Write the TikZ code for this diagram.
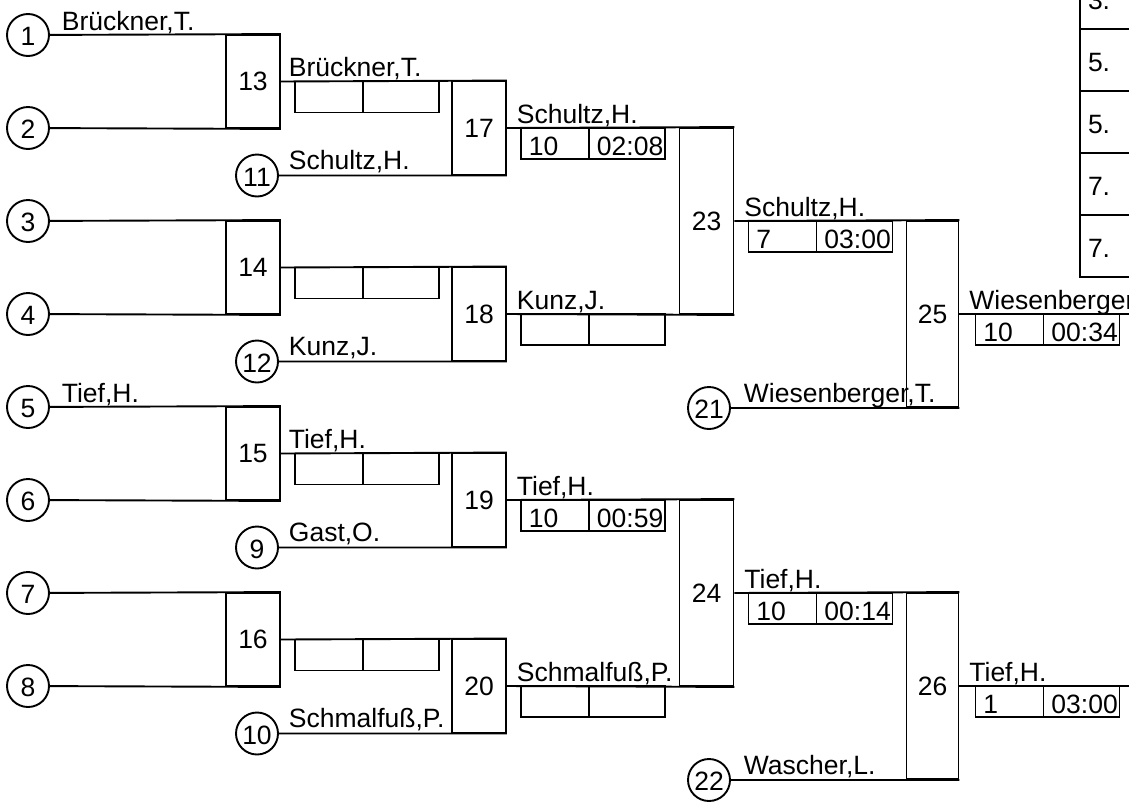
\documentclass[tikz,border=0pt]{standalone}
\usepackage{fontspec}
\setmainfont{Liberation Sans}
\usetikzlibrary{positioning}
\tikzset{
  seed/.style={draw, circle, minimum size=42pt, inner sep=0pt, text height=21pt, text depth=0pt},
  match/.style={draw, minimum width=54pt, inner sep=0pt},
  scoreCell/.style={draw, anchor=north west, outer sep=0pt, inner xsep=8pt, inner ysep=0pt, minimum height=31pt, text height=23pt, text depth=0pt},
  scoreLeft/.style={scoreCell, text width=52pt},
  scoreRight/.style={scoreCell, text width=60pt},
  player/.style={anchor=base west, inner sep=0pt},
  rankRow/.style={draw, anchor=north west, outer sep=0pt, inner xsep=8pt, minimum height=62pt, text width=84pt, text height=22pt, text depth=0pt}
}

\begin{document}
\begin{tikzpicture}[x=1pt, y=-1pt, line width=1.9pt, font=\fontsize{26.5}{31}\selectfont]
  \useasboundingbox (0,0) rectangle (1129,809);
  \clip (0,0) rectangle (1129,809);

  % seeds
  \node[seed] (s1) at (28,35) {1};
  \node[seed] (s2) at (28,128) {2};
  \node[seed] (s3) at (28,221) {3};
  \node[seed] (s4) at (28,314) {4};
  \node[seed] (s5) at (28,407) {5};
  \node[seed] (s6) at (28,500) {6};
  \node[seed] (s7) at (28,593) {7};
  \node[seed] (s8) at (28,686) {8};
  \node[seed] (s11) at (257,175.5) {11};
  \node[seed] (s12) at (257,361.5) {12};
  \node[seed] (s9) at (257,547.5) {9};
  \node[seed] (s10) at (257,733.5) {10};
  \node[seed] (s21) at (709,408) {21};
  \node[seed] (s22) at (709,780) {22};

  % matches
  \node[match, minimum height=93pt] (m13) at (253,81.5) {13};
  \node[match, minimum height=93pt] (m14) at (253,267.5) {14};
  \node[match, minimum height=93pt] (m15) at (253,453.5) {15};
  \node[match, minimum height=93pt] (m16) at (253,639.5) {16};
  \node[match, minimum height=93pt] (m17) at (479,128) {17};
  \node[match, minimum height=93pt] (m18) at (479,314) {18};
  \node[match, minimum height=93pt] (m19) at (479,500) {19};
  \node[match, minimum height=93pt] (m20) at (479,686) {20};
  \node[match, minimum height=186pt] (m23) at (706.5,221) {23};
  \node[match, minimum height=186pt] (m24) at (706.5,593) {24};
  \node[match, minimum width=52pt, minimum height=186pt] (m25) at (932.5,314) {25};
  \node[match, minimum width=52pt, minimum height=186pt] (m26) at (932.5,686) {26};
  \coordinate (out25) at (1140,314);
  \coordinate (out26) at (1140,686);

  % bracket lines
  \draw (s1) -- (m13.north east);
  \draw (s2) -- (m13.south east);
  \draw (s3) -- (m14.north east);
  \draw (s4) -- (m14.south east);
  \draw (s5) -- (m15.north east);
  \draw (s6) -- (m15.south east);
  \draw (s7) -- (m16.north east);
  \draw (s8) -- (m16.south east);
  \draw (m13.east) -- (m17.north east);
  \draw (s11.east) -- (m17.south east);
  \draw (m14.east) -- (m18.north east);
  \draw (s12.east) -- (m18.south east);
  \draw (m15.east) -- (m19.north east);
  \draw (s9.east) -- (m19.south east);
  \draw (m16.east) -- (m20.north east);
  \draw (s10.east) -- (m20.south east);
  \draw (m17.east) -- (m23.north east);
  \draw (m18.east) -- (m23.south east);
  \draw (m19.east) -- (m24.north east);
  \draw (m20.east) -- (m24.south east);
  \draw (m23.east) -- (m25.north east);
  \draw (s21.east) -- (m25.south east);
  \draw (m24.east) -- (m26.north east);
  \draw (s22.east) -- (m26.south east);
  \draw (m25.east) -- (out25);
  \draw (m26.east) -- (out26);

  % names
  \node[player] (n1) at ([xshift=11pt, yshift=5pt]s1.east) {Brückner,T.};
  \node[player] (n5) at ([xshift=11pt, yshift=5pt]s5.east) {Tief,H.};
  \node[player] (n11) at ([xshift=9pt, yshift=6pt]s11.east) {Schultz,H.};
  \node[player] (n12) at ([xshift=9pt, yshift=6pt]s12.east) {Kunz,J.};
  \node[player] (n9) at ([xshift=9pt, yshift=6pt]s9.east) {Gast,O.};
  \node[player] (n10) at ([xshift=9pt, yshift=6pt]s10.east) {Schmalfuß,P.};
  \node[player] (n21) at ([xshift=12pt, yshift=6pt]s21.east) {Wiesenberger,T.};
  \node[player] (n22) at ([xshift=12pt, yshift=6pt]s22.east) {Wascher,L.};
  \node[player] (w13) at ([xshift=7pt, yshift=5pt]m13.east) {Brückner,T.};
  \node[player] (w15) at ([xshift=7pt, yshift=5pt]m15.east) {Tief,H.};
  \node[player] (w17) at ([xshift=9pt, yshift=5pt]m17.east) {Schultz,H.};
  \node[player] (w18) at ([xshift=9pt, yshift=5pt]m18.east) {Kunz,J.};
  \node[player] (w19) at ([xshift=9pt, yshift=5pt]m19.east) {Tief,H.};
  \node[player] (w20) at ([xshift=9pt, yshift=5pt]m20.east) {Schmalfuß,P.};
  \node[player] (w23) at ([xshift=9pt, yshift=5pt]m23.east) {Schultz,H.};
  \node[player] (w24) at ([xshift=9pt, yshift=5pt]m24.east) {Tief,H.};
  \node[player] (w25) at ([xshift=9pt, yshift=5pt]m25.east) {Wiesenberger,T.};
  \node[player] (w26) at ([xshift=9pt, yshift=5pt]m26.east) {Tief,H.};

  % score boxes
  \node[scoreLeft] (r13a) at ([xshift=14pt]m13.east) {};
  \node[scoreRight, right=0pt of r13a] (r13b) {};
  \node[scoreLeft] (r14a) at ([xshift=14pt]m14.east) {};
  \node[scoreRight, right=0pt of r14a] (r14b) {};
  \node[scoreLeft] (r15a) at ([xshift=14pt]m15.east) {};
  \node[scoreRight, right=0pt of r15a] (r15b) {};
  \node[scoreLeft] (r16a) at ([xshift=14pt]m16.east) {};
  \node[scoreRight, right=0pt of r16a] (r16b) {};
  \node[scoreLeft] (r17a) at ([xshift=14pt]m17.east) {10};
  \node[scoreRight, right=0pt of r17a] (r17b) {02:08};
  \node[scoreLeft] (r18a) at ([xshift=14pt]m18.east) {};
  \node[scoreRight, right=0pt of r18a] (r18b) {};
  \node[scoreLeft] (r19a) at ([xshift=14pt]m19.east) {10};
  \node[scoreRight, right=0pt of r19a] (r19b) {00:59};
  \node[scoreLeft] (r20a) at ([xshift=14pt]m20.east) {};
  \node[scoreRight, right=0pt of r20a] (r20b) {};
  \node[scoreLeft] (r23a) at ([xshift=14pt]m23.east) {7};
  \node[scoreRight, right=0pt of r23a] (r23b) {03:00};
  \node[scoreLeft] (r24a) at ([xshift=14pt]m24.east) {10};
  \node[scoreRight, right=0pt of r24a] (r24b) {00:14};
  \node[scoreLeft] (r25a) at ([xshift=16pt]m25.east) {10};
  \node[scoreRight, right=0pt of r25a] (r25b) {00:34};
  \node[scoreLeft] (r26a) at ([xshift=16pt]m26.east) {1};
  \node[scoreRight, right=0pt of r26a] (r26b) {03:00};

  % ranking table
  \node[rankRow] (rk3) at (1080,-33) {3.};
  \node[rankRow, below=0pt of rk3] (rk5a) {5.};
  \node[rankRow, below=0pt of rk5a] (rk5b) {5.};
  \node[rankRow, below=0pt of rk5b] (rk7a) {7.};
  \node[rankRow, below=0pt of rk7a] (rk7b) {7.};
\end{tikzpicture}
\end{document}
